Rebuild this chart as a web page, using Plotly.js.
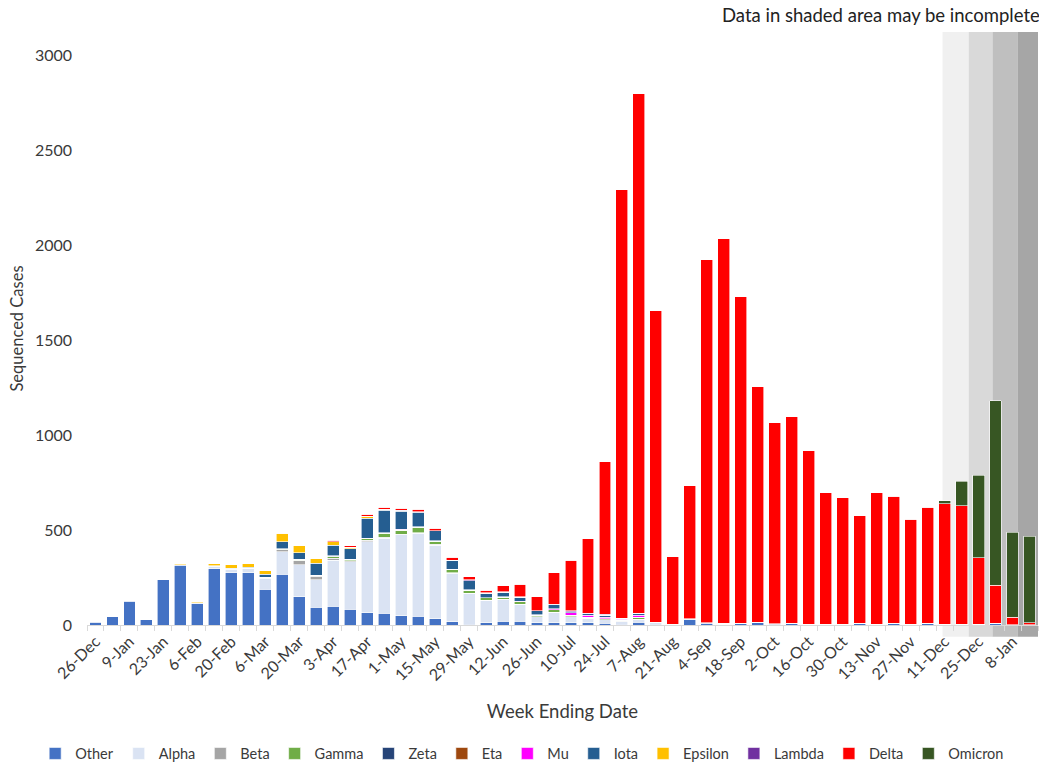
<!DOCTYPE html>
<html>
<head>
<meta charset="utf-8">
<script src="https://cdn.plot.ly/plotly-3.0.1.min.js"></script>
<style>html,body{margin:0;padding:0;background:#fff;}#chart{width:1039px;height:771px;}</style>
</head>
<body>
<div id="chart"></div>
<script>
const weeks = ['26-Dec','2-Jan','9-Jan','16-Jan','23-Jan','30-Jan','6-Feb','13-Feb','20-Feb','27-Feb',
  '6-Mar','13-Mar','20-Mar','27-Mar','3-Apr','10-Apr','17-Apr','24-Apr','1-May','8-May',
  '15-May','22-May','29-May','5-Jun','12-Jun','19-Jun','26-Jun','3-Jul','10-Jul','17-Jul',
  '24-Jul','31-Jul','7-Aug','14-Aug','21-Aug','28-Aug','4-Sep','11-Sep','18-Sep','25-Sep',
  '2-Oct','9-Oct','16-Oct','23-Oct','30-Oct','6-Nov','13-Nov','20-Nov','27-Nov','4-Dec',
  '11-Dec','18-Dec','25-Dec','1-Jan','8-Jan','15-Jan'];

const other   = [14,43,126,31,238,315,113,295,275,275, 189,268,149,93,100,82,65,61,49,47, 32,18,5,12,19,21,12,12,12,12, 10,5,15,5,2,27,8,5,8,12, 5,8,3,3,3,10,3,10,3,8, 3,3,3,8,2,1];
const alpha   = [3,0,2,0,2,3,3,15,18,20, 58,117,167,144,242,251,374,395,425,435, 389,254,161,119,117,89,32,56,32,23, 18,12,15,10,3,5,5,0,2,3, 2,2,0,0,0,0,0,0,0,0, 0,0,0,0,0,0];
const beta    = [0,0,0,0,0,0,0,3,3,3, 4,12,22,20,10,5,6,5,4,4, 3,2,2,0,0,0,0,0,0,0, 0,3,0,0,0,0,0,0,0,0, 0,0,0,0,0,0,0,0,0,0, 0,0,0,0,0,0];
const gamma   = [0,0,0,0,0,0,0,0,0,0, 0,3,4,4,8,5,9,21,22,28, 18,19,16,12,10,12,7,13,8,5, 5,5,10,0,0,0,0,0,0,0, 0,0,0,0,0,0,0,0,0,0, 0,0,0,0,0,0];
const zeta    = [0,0,0,0,0,0,0,0,0,0, 0,2,4,2,3,0,0,0,0,0, 0,0,0,0,0,0,0,0,0,0, 0,0,0,0,0,0,0,0,0,0, 0,0,0,0,0,0,0,0,0,0, 0,0,0,0,0,0];
const eta     = [0,0,0,0,0,0,0,0,0,0, 0,0,0,0,2,2,2,3,2,2, 1,0,0,0,0,0,0,0,0,0, 0,0,0,0,0,0,0,0,0,0, 0,0,0,0,0,0,0,0,0,0, 0,0,0,0,0,0];
const mu      = [0,0,0,0,0,0,0,0,0,0, 0,0,0,0,0,0,0,0,1,0, 0,0,2,1,2,4,2,4,12,12, 8,5,12,0,0,0,0,5,0,0, 0,0,0,0,0,0,0,0,0,0, 0,0,0,0,0,0];
const iota    = [0,0,0,0,0,0,0,0,4,5, 15,36,35,61,56,56,105,118,95,77, 52,49,47,24,25,21,21,21,5,6, 10,5,10,0,0,0,0,0,0,0, 0,0,0,0,0,0,0,0,0,0, 0,0,0,0,0,0];
const epsilon = [0,4,0,0,5,7,7,12,19,22, 21,46,40,27,18,7,12,6,4,2, 1,0,0,0,0,0,0,0,0,0, 0,0,0,0,0,0,0,0,0,0, 0,0,0,0,0,0,0,0,0,0, 0,0,0,0,0,0];
const lambda  = [0,0,0,0,0,0,0,0,0,0, 0,0,0,0,0,0,0,0,2,0, 0,0,6,2,2,2,0,2,6,4, 5,0,0,0,0,0,0,0,0,0, 0,0,0,0,0,0,0,0,0,0, 0,0,0,0,0,0];
const delta   = [0,0,0,0,0,0,0,0,0,0, 0,2,0,0,8,8,9,10,10,14, 13,14,15,14,32,65,75,167,267,391, 802,2255,2733,1638,353,700,1910,2022,1717,1238, 1057,1086,913,694,666,566,694,667,553,613, 636,624,352,202,38,10];
const omicron = [0,0,0,0,0,0,0,0,0,0, 0,0,0,0,0,0,0,0,0,0, 0,0,0,0,0,0,0,0,0,0, 0,0,0,0,0,0,0,0,0,0, 0,0,0,0,0,0,0,0,0,0, 14,130,434,969,449,457];

const seriesNames = ['Other','Alpha','Beta','Gamma','Zeta','Eta','Mu','Iota','Epsilon','Lambda','Delta','Omicron'];
const seriesData  = [other, alpha, beta, gamma, zeta, eta, mu, iota, epsilon, lambda, delta, omicron];
const seriesColors = ['#4472C4','#DAE3F3','#A5A5A5','#70AD47','#264478','#9E480E','#FF00FF','#255E91','#FFC000','#7030A0','#FF0000','#375623'];

// shaded "may be incomplete" bands (category-axis positions) and their greys
const shadeEdges  = [49.88, 51.42, 52.82, 54.29, 55.6];
const shadeColors = ['#F0F0F0','#D9D9D9','#BFBFBF','#A6A6A6'];

const traces = seriesNames.map((name, i) => ({
  type: 'bar',
  name: name,
  x: weeks,
  y: seriesData[i],
  marker: {color: seriesColors[i], line: {color: '#FFFFFF', width: 0.6}},
  hoverinfo: 'x+y+name'
}));

const shapes = shadeColors.map((c, i) => ({
  type: 'rect', xref: 'x', yref: 'paper',
  x0: shadeEdges[i], x1: shadeEdges[i + 1], y0: -0.02, y1: 1,
  fillcolor: c, line: {width: 0}, layer: 'below'
}));

const tickText = weeks.map((w, i) => (i % 2 === 0 ? w : ''));

const layout = {
  width: 1039, height: 771,
  margin: {l: 87, r: 1, t: 32, b: 146},
  paper_bgcolor: '#FFFFFF', plot_bgcolor: '#FFFFFF',
  font: {family: 'Lato, "Open Sans", sans-serif', color: '#3A3A3A', size: 15},
  barmode: 'stack', bargap: 0.3,
  showlegend: true,
  legend: {orientation: 'h', x: -0.0545, xanchor: 'left', y: -0.2167, yanchor: 'middle',
           font: {size: 14.5, color: '#3A3A3A'}, itemwidth: 30, traceorder: 'normal'},
  xaxis: {
    type: 'category', categoryorder: 'array', categoryarray: weeks,
    range: [-0.5, 55.5],
    tickmode: 'array', tickvals: weeks, ticktext: tickText,
    tickangle: -45, ticks: 'outside', ticklen: 5, tickcolor: '#D9D9D9', tickson: 'boundaries',
    showline: true, linecolor: '#D9D9D9', linewidth: 1,
    showgrid: false, zeroline: false, automargin: false,
    tickfont: {size: 16, color: '#3A3A3A'},
    title: {text: 'Week Ending Date', font: {size: 18.5, color: '#3A3A3A'}, standoff: 22}
  },
  yaxis: {
    range: [0, 3121], tickmode: 'linear', tick0: 0, dtick: 500,
    showgrid: false, zeroline: false, showline: false, ticks: '',
    ticklabelstandoff: 14, automargin: false,
    tickfont: {size: 16, color: '#3A3A3A'},
    title: {text: 'Sequenced Cases', font: {size: 16.5, color: '#3A3A3A'}, standoff: 7}
  },
  shapes: shapes,
  annotations: [{
    text: 'Data in shaded area may be incomplete',
    xref: 'paper', yref: 'paper', x: 0.6656, y: 1.0287,
    xanchor: 'left', yanchor: 'middle', showarrow: false,
    font: {size: 18.5, color: '#222222'}
  }]
};

Plotly.newPlot('chart', traces, layout, {displayModeBar: false, staticPlot: true});
</script>
</body>
</html>
